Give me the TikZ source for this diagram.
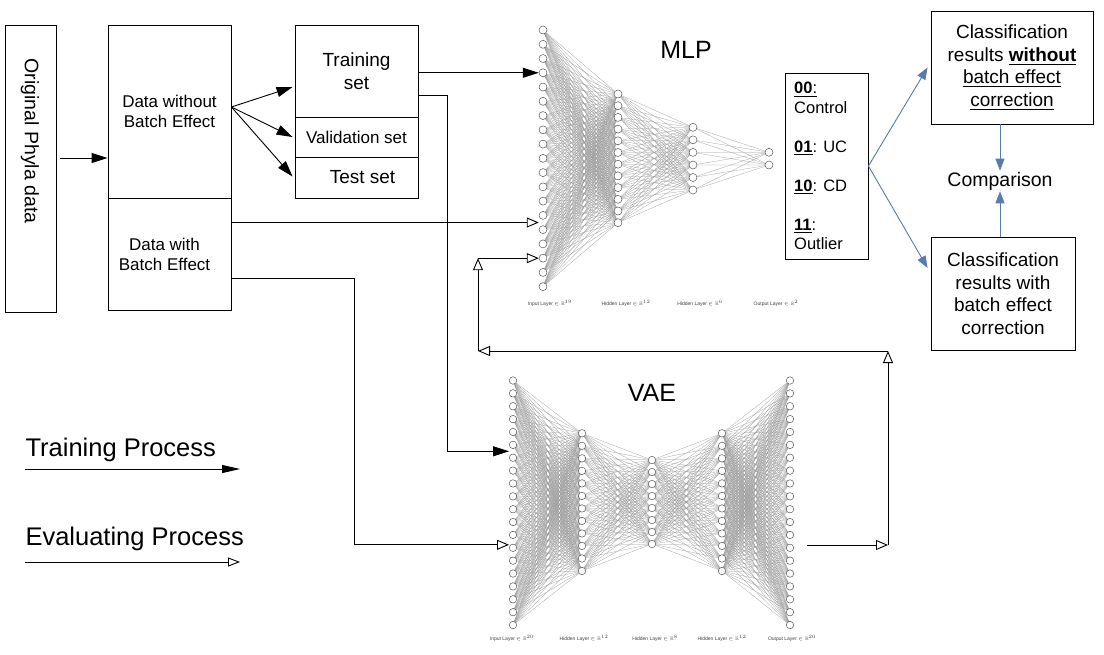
\documentclass[tikz,border=0pt]{standalone}
\usepackage{amssymb}
\usepackage{fontspec}
\setmainfont{Liberation Sans}
\usetikzlibrary{arrows.meta,calc}
\pgfdeclarelayer{bg}
\pgfdeclarelayer{paper}
\pgfsetlayers{paper,bg,main}
\definecolor{myblue}{RGB}{88,124,172}
\newcommand{\fsz}[2]{\fontsize{#1}{#2}\selectfont}
\begin{document}
\begin{tikzpicture}[x=1pt,y=-1pt,
  box/.style={draw, line width=0.9pt, inner sep=0pt},
  trn/.style={line width=0.9pt, -{Triangle[length=16pt,width=10pt]}},
  evl/.style={line width=0.9pt, -{Triangle[open,length=12pt,width=10pt]}},
  blu/.style={line width=0.9pt, draw=myblue, -{Triangle[length=12pt,width=9pt,fill=myblue]}},
  neuron/.style={circle, draw=black!65, fill=white, line width=0.5pt, minimum size=8pt, inner sep=0pt},
  vneuron/.style={neuron, minimum size=7.5pt},
  syn/.style={draw=black!38, line width=0.25pt},
  lay/.style={font=\fsz{5}{6}, text=black!75, inner sep=0pt},
]
\begin{pgfonlayer}{paper}
\fill[white] (0,0) rectangle (1104,654);
\end{pgfonlayer}
\useasboundingbox (0,0) rectangle (1104,654);

% ---- left boxes
\node[box, minimum width=51pt, minimum height=287pt] (orig) at (30.5,168.5) {};
\node[rotate=-90, font=\fsz{19.5}{23}] (origtxt) at (30,141) {Original Phyla data};

\node[box, minimum width=123pt, minimum height=173pt, align=center, font=\fsz{17}{20}] (dwo) at (169.5,111.5) {Data without\\Batch Effect};
\node[box, minimum width=123pt, minimum height=112pt, align=center, font=\fsz{17}{20}] (dwith) at (169.5,254) {Data with\hspace*{10pt}\\Batch Effect\hspace*{10pt}};

\node[box, minimum width=123pt, minimum height=92pt, align=center, font=\fsz{19}{23}] (train) at (356.5,71) {Training\\set};
\node[box, minimum width=123pt, minimum height=40pt, font=\fsz{17}{20}] (valid) at (356.5,137) {Validation set};
\node[box, minimum width=123pt, minimum height=41pt, font=\fsz{19}{23}] (test) at (356.5,177.5) {\hspace*{12pt}Test set};

% ---- output box
\node[box, minimum width=83pt, minimum height=186pt] (outb) at (826.5,166) {};
\node[anchor=west, align=left, inner sep=0pt, font=\fsz{16.5}{19.5}] (outtxt) at (794,166)
  {\underline{\textbf{00}:}\\Control\\[19.5pt]\underline{\textbf{01}}: UC\\[19.5pt]\underline{\textbf{10}}: CD\\[19.5pt]\underline{\textbf{11}}:\\Outlier};

% ---- classification boxes
\node[box, minimum width=162pt, minimum height=113pt, align=center, font=\fsz{19}{22.5}] (cls1) at (1012,67.5)
  {Classification\\results \underline{\textbf{without}}\\\underline{batch effect}\\\underline{correction}};
\node[box, minimum width=144pt, minimum height=113pt, align=center, font=\fsz{19}{22.5}] (cls2) at (1003,293.5)
  {Classification\\results with\\batch effect\\correction};
\node[font=\fsz{19.5}{23}, inner sep=1pt] (comp) at (1000,181) {Comparison};

% ---- titles
\node[font=\fsz{25}{30}] (mlpt) at (686,50) {MLP};
\node[font=\fsz{25}{30}] (vaet) at (652,393) {VAE};

% ---- MLP network
\foreach \i in {1,...,19} \node[neuron] (m1-\i) at (543,{30+(\i-1)*14.26}) {};
\foreach \i in {1,...,12} \node[neuron] (m2-\i) at (618,{94+(\i-1)*11.7}) {};
\foreach \i in {1,...,6}  \node[neuron] (m3-\i) at (693,{127.3+(\i-1)*12.55}) {};
\foreach \i in {1,2}      \node[neuron] (m4-\i) at (769,{152.3+(\i-1)*12.7}) {};
\begin{pgfonlayer}{bg}
\foreach \i in {1,...,19} \foreach \j in {1,...,12} \draw[syn] (m1-\i.center) -- (m2-\j.center);
\foreach \i in {1,...,12} \foreach \j in {1,...,6} \draw[syn] (m2-\i.center) -- (m3-\j.center);
\foreach \i in {1,...,6} \foreach \j in {1,2} \draw[syn] (m3-\i.center) -- (m4-\j.center);
\end{pgfonlayer}
\node[lay] (ml1) at (550,303) {Input Layer $\in\mathbb{R}^{19}$};
\node[lay] (ml2) at (626,303) {Hidden Layer $\in\mathbb{R}^{12}$};
\node[lay] (ml3) at (700,303) {Hidden Layer $\in\mathbb{R}^{6}$};
\node[lay] (ml4) at (776,303) {Output Layer $\in\mathbb{R}^{2}$};

% ---- VAE network
\foreach \i in {1,...,20} \node[vneuron] (v1-\i) at (513,{380.5+(\i-1)*12.87}) {};
\foreach \i in {1,...,12} \node[vneuron] (v2-\i) at (582,{433.3+(\i-1)*12.52}) {};
\foreach \i in {1,...,8}  \node[vneuron] (v3-\i) at (652,{460+(\i-1)*12}) {};
\foreach \i in {1,...,12} \node[vneuron] (v4-\i) at (722,{433.3+(\i-1)*12.52}) {};
\foreach \i in {1,...,20} \node[vneuron] (v5-\i) at (790,{380.5+(\i-1)*12.87}) {};
\begin{pgfonlayer}{bg}
\foreach \i in {1,...,20} \foreach \j in {1,...,12} \draw[syn] (v1-\i.center) -- (v2-\j.center);
\foreach \i in {1,...,12} \foreach \j in {1,...,8} \draw[syn] (v2-\i.center) -- (v3-\j.center);
\foreach \i in {1,...,8} \foreach \j in {1,...,12} \draw[syn] (v3-\i.center) -- (v4-\j.center);
\foreach \i in {1,...,12} \foreach \j in {1,...,20} \draw[syn] (v4-\i.center) -- (v5-\j.center);
\end{pgfonlayer}
\node[lay] (vl1) at (512,638) {Input Layer $\in\mathbb{R}^{20}$};
\node[lay] (vl2) at (584,638) {Hidden Layer $\in\mathbb{R}^{12}$};
\node[lay] (vl3) at (655,638) {Hidden Layer $\in\mathbb{R}^{8}$};
\node[lay] (vl4) at (722,638) {Hidden Layer $\in\mathbb{R}^{12}$};
\node[lay] (vl5) at (792,638) {Output Layer $\in\mathbb{R}^{20}$};

% ---- connectors
\coordinate (a0) at ($(orig.east)+(4,-10.5)$);
\draw[trn] (a0) -- (a0 -| dwo.west);

\coordinate (s1) at ($(dwo.east)+(0,-4.5)$);
\draw[trn] (s1) -- ($(train.west)+(-2,16)$);
\draw[trn] (s1) -- ($(valid.west)+(-2,0)$);
\draw[trn] (s1) -- ($(test.west)+(-2,-1)$);

\draw[trn] (train.east |- m1-4) -- (m1-4);

\coordinate (b1) at (447,95);
\coordinate (vt) at ($(v1-6.west)!0.5!(v1-7.west)$);
\draw[trn] (train.east |- b1) -- (b1) |- (vt);

\coordinate (me1) at ($(m1-14.west)!0.5!(m1-15.west)$);
\draw[evl] (dwith.east |- me1) -- (me1);

\coordinate (b2) at (354,278);
\coordinate (ve) at ($(v1-14.west)+(0,-3)$);
\draw[evl] (dwith.east |- b2) -- (b2) |- (ve);

\coordinate (l0) at (807,545);
\coordinate (l1) at (888,545);
\coordinate (l2) at (888,351);
\coordinate (l3) at (478,351);
\coordinate (l4) at (l3 |- m1-17);
\draw[evl] (l0) -- (l1);
\draw[evl] (l1) -- (l2);
\draw[evl] (l2) -- (l3);
\draw[evl] (l3) -- (l4);
\draw[evl] (l4) -- (m1-17);

% ---- blue arrows
\draw[blu] (outb.east) -- ($(cls1.west)+(-3,0)$);
\draw[blu] (outb.east) -- ($(cls2.west)+(-3,-25.5)$);
\draw[blu] (cls1.south -| comp.north) -- (comp.north);
\draw[blu] (cls2.north -| comp.south) -- (comp.south);

% ---- legend
\node[anchor=west, font=\fsz{25.5}{30}] (trlab) at (22,450) {Training Process};
\node[anchor=west, font=\fsz{25.5}{30}] (evlab) at (22,539) {Evaluating Process};
\coordinate (lt0) at (25,469);
\coordinate (lt1) at (240,469);
\coordinate (le0) at (25,562);
\coordinate (le1) at (240,562);
\draw[line width=0.9pt, -{Triangle[length=18pt,width=8pt]}] (lt0) -- (lt1);
\draw[line width=0.9pt, -{Triangle[open,length=12pt,width=9pt]}] (le0) -- (le1);
\end{tikzpicture}
\end{document}
